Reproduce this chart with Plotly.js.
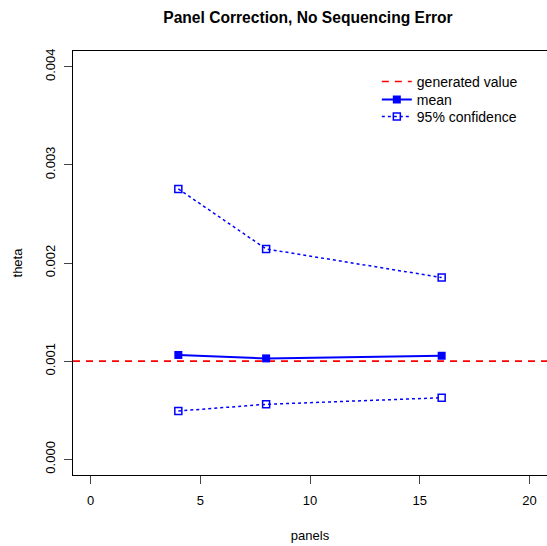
<!DOCTYPE html>
<html>
<head>
<meta charset="utf-8">
<script src="https://cdn.plot.ly/plotly-3.0.1.min.js"></script>
<style>html,body{margin:0;padding:0;background:#fff;}#chart{width:547px;height:546px;}</style>
</head>
<body>
<div id="chart"></div>
<script>
// Data
const panels = [4, 8, 16];
const meanTheta = [0.001063, 0.001028, 0.001055];
const upperTheta = [0.002755, 0.002143, 0.001852];
const lowerTheta = [0.000492, 0.000560, 0.000627];
const generatedValue = 0.001;
const xTicks = [0, 5, 10, 15, 20];
const yTicks = [0, 0.001, 0.002, 0.003, 0.004];

// Axis ranges (R default 4% extension)
const xRange = [-0.8, 20.8];
const yRange = [-0.00016, 0.00416];

const font = "Liberation Sans, Arial, Helvetica, sans-serif";

const traces = [
  {
    x: xRange, y: [generatedValue, generatedValue],
    mode: 'lines', name: 'generated value', legend: 'legend',
    line: {color: '#ff0000', width: 1.6, dash: '7px,6px'},
    cliponaxis: true
  },
  {
    x: panels, y: meanTheta, mode: 'lines+markers', name: 'mean', legend: 'legend2',
    line: {color: '#0000ff', width: 2},
    marker: {symbol: 'square', size: 8, color: '#0000ff'}
  },
  {
    x: panels, y: upperTheta, mode: 'lines+markers', name: '95% confidence', legend: 'legend3',
    line: {color: '#0000ff', width: 1.5, dash: 'dot'},
    marker: {symbol: 'square-open', size: 7, color: '#0000ff', line: {width: 1.5}}
  },
  {
    x: panels, y: lowerTheta, mode: 'lines+markers', name: '95% confidence',
    showlegend: false,
    line: {color: '#0000ff', width: 1.5, dash: 'dot'},
    marker: {symbol: 'square-open', size: 7, color: '#0000ff', line: {width: 1.5}}
  }
];

function legendAt(y) {
  return {x: 0.641, y: y, xanchor: 'left', yanchor: 'middle', bgcolor: 'rgba(0,0,0,0)', borderwidth: 0,
          font: {family: font, size: 14, color: '#000'}, itemwidth: 30};
}

const layout = {
  width: 547, height: 546,
  margin: {l: 73, r: 0, t: 51, b: 71, pad: 0},
  paper_bgcolor: '#fff', plot_bgcolor: '#fff',
  font: {family: font, size: 13, color: '#000'},
  title: {text: '<b>Panel Correction, No Sequencing Error</b>', font: {family: font, size: 15.6, color: '#000'}, x: 0.563, xanchor: 'center', y: 0.967, yanchor: 'middle'},
  showlegend: true,
  legend: legendAt(0.927),
  legend2: legendAt(0.8844),
  legend3: legendAt(0.8443),
  xaxis: {
    range: xRange, tickvals: xTicks, ticktext: xTicks.map(String),
    showgrid: false, zeroline: false,
    showline: true, linecolor: '#000', linewidth: 1, mirror: true,
    ticks: 'outside', ticklen: 8, tickcolor: '#444', tickwidth: 1,
    ticklabelstandoff: 5,
    tickfont: {family: font, size: 13, color: '#000'},
    title: {text: 'panels', font: {family: font, size: 13, color: '#000'}, standoff: 24}
  },
  yaxis: {
    range: yRange, tickvals: yTicks, ticktext: yTicks.map(v => v.toFixed(3)),
    showgrid: false, zeroline: false,
    showline: true, linecolor: '#000', linewidth: 1, mirror: true,
    ticks: 'outside', ticklen: 8, tickcolor: '#444', tickwidth: 1,
    tickangle: -90,
    ticklabelstandoff: 4,
    tickfont: {family: font, size: 13, color: '#000'},
    title: {text: 'theta', font: {family: font, size: 13, color: '#000'}, standoff: 17}
  }
};

Plotly.newPlot('chart', traces, layout, {staticPlot: true, displayModeBar: false});
</script>
</body>
</html>
